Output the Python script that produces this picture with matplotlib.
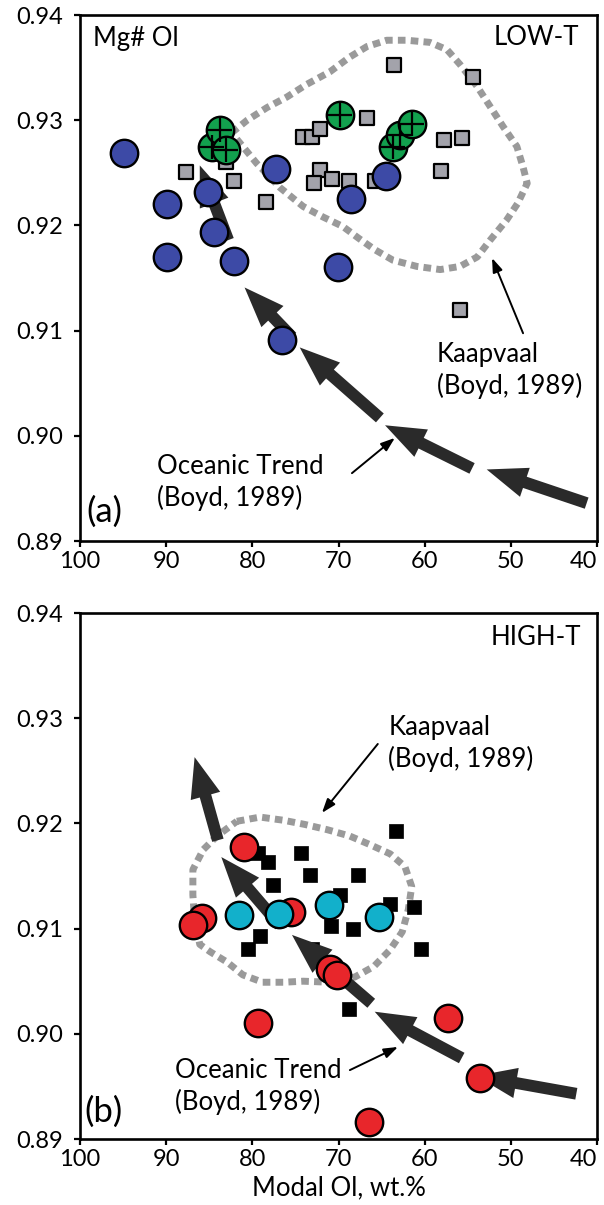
import matplotlib
matplotlib.use("Agg")
import matplotlib.pyplot as plt
from matplotlib.ticker import FixedLocator, FormatStrFormatter

plt.rcParams['font.family'] = ['Lato', 'DejaVu Sans']

# ---------------- Panel (a): LOW-T ----------------
a_blue_x = [94.9, 89.9, 85.2, 84.5, 89.9, 82.1, 77.3, 68.6, 70.1, 76.6, 64.5]
a_blue_y = [0.9269, 0.9220, 0.9232, 0.9194, 0.9170, 0.9166, 0.9254, 0.9225, 0.9160, 0.9091, 0.9247]

a_green_x = [84.7, 83.8, 83.1, 69.8, 63.7, 62.9, 61.5]
a_green_y = [0.9275, 0.9291, 0.9272, 0.9305, 0.9275, 0.9286, 0.9296]

a_sq_x = [87.7, 82.1, 78.4, 83.0, 74.1, 73.1, 72.2, 72.2, 72.9, 70.8, 68.8, 65.8,
          66.7, 57.8, 55.7, 58.1, 55.9, 63.6, 54.4]
a_sq_y = [0.9251, 0.9242, 0.9222, 0.9260, 0.9284, 0.9284, 0.9292, 0.9253, 0.9240, 0.9244, 0.9242, 0.9242,
          0.9302, 0.9281, 0.9283, 0.9252, 0.9120, 0.9352, 0.9341]

a_env_x = [82.4, 80.6, 78.3, 76.0, 73.7, 71.0, 68.7, 66.7, 64.4, 62.1, 59.4, 57.4, 55.9, 53.9,
           52.4, 50.9, 49.3, 48.6, 48.1, 49.2, 50.5, 52.4, 53.9, 55.9, 58.2, 60.9, 63.7, 65.8,
           67.7, 69.5, 71.8, 74.1, 76.8, 79.5, 81.4, 82.4]
a_env_y = [0.9288, 0.9300, 0.9312, 0.9322, 0.9334, 0.9346, 0.9360, 0.9370, 0.9376, 0.9376, 0.9374,
           0.9367, 0.9353, 0.9332, 0.9313, 0.9294, 0.9275, 0.9256, 0.9240, 0.9221, 0.9205, 0.9186,
           0.9170, 0.9161, 0.9158, 0.9161, 0.9167, 0.9177, 0.9188, 0.9199, 0.9208, 0.9218, 0.9236,
           0.9259, 0.9278, 0.9288]

# arrows: (tail_x, tail_y, tip_x, tip_y)
a_arrows = [(41.2, 0.8936, 52.8, 0.8968),
            (54.5, 0.8969, 64.6, 0.9010),
            (65.2, 0.9017, 74.5, 0.9084),
            (75.4, 0.9094, 80.9, 0.9141),
            (82.8, 0.9186, 86.1, 0.9257)]

# ---------------- Panel (b): HIGH-T ----------------
b_red_x = [81.0, 85.8, 86.9, 75.5, 71.0, 70.2, 79.3, 57.3, 53.6, 66.5]
b_red_y = [0.9178, 0.9110, 0.9103, 0.9116, 0.9062, 0.9056, 0.9010, 0.9015, 0.8958, 0.8916]

b_cyan_x = [81.6, 76.9, 71.1, 65.3]
b_cyan_y = [0.9113, 0.9114, 0.9122, 0.9111]

b_sq_x = [63.3, 79.3, 78.2, 74.3, 73.3, 67.7, 77.6, 69.8, 64.0, 61.2, 70.9, 68.3,
          79.1, 80.5, 73.1, 60.4, 68.8]
b_sq_y = [0.9193, 0.9172, 0.9163, 0.9172, 0.9151, 0.9151, 0.9141, 0.9132, 0.9123, 0.9121, 0.9102, 0.9100,
          0.9093, 0.9081, 0.9081, 0.9081, 0.9024]

b_env_x = [81.8, 79.1, 76.4, 73.9, 71.3, 68.7, 66.4, 64.0, 62.3, 61.5, 61.9, 62.6, 64.0, 65.9,
           68.1, 71.0, 74.1, 76.4, 78.8, 81.1, 82.9, 84.9, 86.1, 86.7, 86.9, 86.9, 85.7, 84.1, 81.8]
b_env_y = [0.9202, 0.9206, 0.9203, 0.9199, 0.9194, 0.9188, 0.9180, 0.9171, 0.9159, 0.9140, 0.9118,
           0.9097, 0.9080, 0.9064, 0.9054, 0.9049, 0.9050, 0.9049, 0.9049, 0.9056, 0.9068, 0.9078,
           0.9085, 0.9108, 0.9132, 0.9156, 0.9175, 0.9188, 0.9202]

b_arrows = [(42.4, 0.8943, 54.0, 0.8960),
            (55.7, 0.8977, 65.8, 0.9021),
            (66.2, 0.9029, 75.4, 0.9094),
            (76.8, 0.9103, 83.6, 0.9168),
            (84.0, 0.9184, 86.7, 0.9263)]

x_ticks = [100, 90, 80, 70, 60, 50, 40]
y_ticks = [0.89, 0.90, 0.91, 0.92, 0.93, 0.94]

FS = 18.5
TICK_FS = 17
ENV_C = '#9a9a9a'
ARROW_C = '#2a2a2a'
CIRC_S = 390

fig = plt.figure(figsize=(6.04, 12.05), dpi=100)
ax_a = fig.add_axes([80 / 604, 1 - 541 / 1205, 517 / 604, 526 / 1205])
ax_b = fig.add_axes([80 / 604, 1 - 1139 / 1205, 517 / 604, 526 / 1205])


def style_axes(ax):
    ax.set_xlim(100, 40)
    ax.set_ylim(0.89, 0.94)
    ax.xaxis.set_major_locator(FixedLocator(x_ticks))
    ax.yaxis.set_major_locator(FixedLocator(y_ticks))
    ax.yaxis.set_major_formatter(FormatStrFormatter('%.2f'))
    for s in ax.spines.values():
        s.set_linewidth(1.9)
    ax.tick_params(axis='both', direction='out', length=4, width=1.6, labelsize=TICK_FS)
    ax.tick_params(axis='y', pad=8)
    ax.tick_params(axis='x', pad=3)
    ticks = ax.xaxis.get_major_ticks()
    ticks[-1].label1.set_horizontalalignment('right')


def draw_env(ax, xs, ys):
    ax.plot(xs, ys, color=ENV_C, lw=5.0, dashes=(1.1, 0.75), solid_capstyle='butt',
            dash_capstyle='butt', zorder=1)


def draw_arrows(ax, arrows):
    for tx, ty, hx, hy in arrows:
        ax.annotate('', xy=(hx, hy), xytext=(tx, ty),
                    arrowprops=dict(arrowstyle='simple,head_length=29,head_width=22,tail_width=8.5',
                                    mutation_scale=1, fc=ARROW_C, ec='none',
                                    shrinkA=0, shrinkB=0),
                    zorder=3)


def thin_arrow(ax, start, end):
    ax.annotate('', xy=end, xytext=start, xycoords='axes fraction', textcoords='axes fraction',
                arrowprops=dict(arrowstyle='-|>,head_length=0.7,head_width=0.25', color='black',
                                lw=1.4, shrinkA=0, shrinkB=0, mutation_scale=12), zorder=5)


# ---- Panel (a)
style_axes(ax_a)
draw_env(ax_a, a_env_x, a_env_y)
draw_arrows(ax_a, a_arrows)
ax_a.scatter(a_sq_x, a_sq_y, s=95, marker='s', c='#a3a3ab', edgecolors='black', linewidths=1.6, zorder=2)
ax_a.scatter(a_blue_x, a_blue_y, s=CIRC_S, marker='o', c='#3d4aa6', edgecolors='black', linewidths=1.7, zorder=4)
ax_a.scatter(a_green_x, a_green_y, s=CIRC_S, marker='o', c='#12a04e', edgecolors='black', linewidths=1.7, zorder=4)
ax_a.scatter(a_green_x, a_green_y, s=320, marker='+', c='black', linewidths=1.6, zorder=4.5)

ax_a.text(0.025, 0.956, 'Mg# Ol', transform=ax_a.transAxes, fontsize=FS, ha='left', va='center')
ax_a.text(0.965, 0.958, 'LOW-T', transform=ax_a.transAxes, fontsize=FS, ha='right', va='center')
ax_a.text(0.012, 0.055, '(a)', transform=ax_a.transAxes, fontsize=25, ha='left', va='center')
ax_a.text(0.690, 0.324, 'Kaapvaal\n(Boyd, 1989)', transform=ax_a.transAxes, fontsize=FS,
          ha='left', va='center', linespacing=1.3)
ax_a.text(0.149, 0.111, 'Oceanic Trend\n(Boyd, 1989)', transform=ax_a.transAxes, fontsize=FS,
          ha='left', va='center', linespacing=1.3)
thin_arrow(ax_a, (0.857, 0.395), (0.797, 0.538))
thin_arrow(ax_a, (0.526, 0.129), (0.609, 0.196))

# ---- Panel (b)
style_axes(ax_b)
draw_env(ax_b, b_env_x, b_env_y)
ax_b.scatter(b_sq_x, b_sq_y, s=115, marker='s', c='black', edgecolors='black', linewidths=0.5, zorder=2)
draw_arrows(ax_b, b_arrows)
ax_b.scatter(b_red_x, b_red_y, s=CIRC_S, marker='o', c='#e8262b', edgecolors='black', linewidths=1.7, zorder=4)
ax_b.scatter(b_cyan_x, b_cyan_y, s=CIRC_S, marker='o', c='#12b0cb', edgecolors='black', linewidths=1.7, zorder=4)

ax_b.text(0.97, 0.954, 'HIGH-T', transform=ax_b.transAxes, fontsize=FS, ha='right', va='center')
ax_b.text(0.008, 0.051, '(b)', transform=ax_b.transAxes, fontsize=25, ha='left', va='center')
ax_b.text(0.596, 0.752, 'Kaapvaal\n(Boyd, 1989)', transform=ax_b.transAxes, fontsize=FS,
          ha='left', va='center', linespacing=1.3)
ax_b.text(0.184, 0.100, 'Oceanic Trend\n(Boyd, 1989)', transform=ax_b.transAxes, fontsize=FS,
          ha='left', va='center', linespacing=1.3)
thin_arrow(ax_b, (0.576, 0.751), (0.468, 0.620))
thin_arrow(ax_b, (0.522, 0.131), (0.615, 0.175))
ax_b.set_xlabel('Modal Ol, wt.%', fontsize=FS, labelpad=4)

fig.savefig('out.png', dpi=100)
